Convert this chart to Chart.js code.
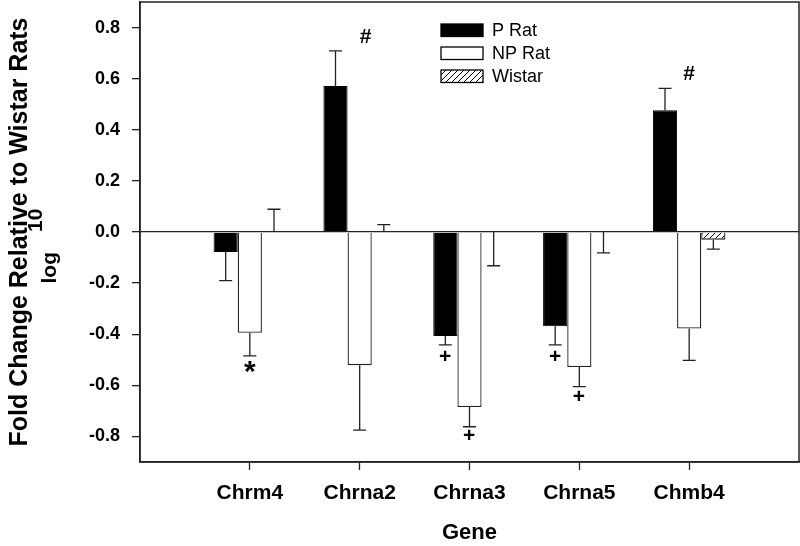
<!DOCTYPE html>
<html>
<head>
<meta charset="utf-8">
<script src="https://cdn.jsdelivr.net/npm/chart.js@4.4.0/dist/chart.umd.min.js"></script>
<style>
  body { margin: 0; background: #fff; }
  #wrap { width: 800px; height: 546px; }
</style>
</head>
<body>
<div id="wrap"><canvas id="chart"></canvas></div>
<script>
// Data
const genes = ['Chrm4', 'Chrna2', 'Chrna3', 'Chrna5', 'Chmb4'];
const pRat = [-0.078, 0.571, -0.407, -0.369, 0.476];
const pRatErr = [-0.112, 0.138, -0.035, -0.073, 0.086];
const npRat = [-0.394, -0.521, -0.685, -0.528, -0.378];
const npRatErr = [-0.091, -0.254, -0.077, -0.077, -0.124];
const wistar = [0, 0, 0, 0, -0.030];
const wistarErr = [0.089, 0.029, -0.132, -0.082, -0.037];
const yTicks = [-0.8, -0.6, -0.4, -0.2, 0, 0.2, 0.4, 0.6, 0.8];

// significance marks (text, x in gene units, y in axis units)
const markText = ['*', '#', '+', '+', '+', '+', '#'];
const markX = [1, 2.055, 2.777, 2.996, 3.779, 3.997, 5.0];
const markY = [-0.536, 0.764, -0.489, -0.801, -0.489, -0.645, 0.617];

const FONT = "'Liberation Sans', Arial, sans-serif";

function hatchPattern() {
    const c = document.createElement('canvas');
    c.width = 6; c.height = 6;
    const g = c.getContext('2d');
    g.fillStyle = '#fff';
    g.fillRect(0, 0, 6, 6);
    g.strokeStyle = '#000';
    g.lineWidth = 1;
    g.beginPath();
    g.moveTo(0, 6); g.lineTo(6, 0);
    g.moveTo(-1, 1); g.lineTo(1, -1);
    g.moveTo(5, 7); g.lineTo(7, 5);
    g.stroke();
    return g.createPattern(c, 'repeat');
}

const errs = [pRatErr, npRatErr, wistarErr];

// error bars, marks, legend, frame and y title
const extras = {
    id: 'extras',
    afterDatasetsDraw(chart) {
        const ctx = chart.ctx;
        const y = chart.scales.y;
        ctx.save();
        ctx.strokeStyle = '#222';
        ctx.lineWidth = 1.3;
        chart.data.datasets.forEach((ds, d) => {
            chart.getDatasetMeta(d).data.forEach((bar, i) => {
                const v = ds.data[i].y;
                const y0 = y.getPixelForValue(v);
                const y1 = y.getPixelForValue(v + errs[d][i]);
                ctx.beginPath();
                ctx.moveTo(bar.x, y0);
                ctx.lineTo(bar.x, y1);
                ctx.moveTo(bar.x - 6.5, y1);
                ctx.lineTo(bar.x + 6.5, y1);
                ctx.stroke();
            });
        });
        ctx.restore();
    },
    afterDraw(chart) {
        const ctx = chart.ctx;
        const a = chart.chartArea;
        const xs = chart.scales.x, ys = chart.scales.y;
        ctx.save();

        // frame
        ctx.strokeStyle = '#222';
        ctx.lineWidth = 1.5;
        ctx.strokeRect(a.left, a.top, a.right - a.left, a.bottom - a.top);

        // marks
        ctx.fillStyle = '#000';
        ctx.textAlign = 'center';
        ctx.textBaseline = 'middle';
        markText.forEach((t, i) => {
            ctx.font = (t === '*' ? 'bold 30px ' : 'bold 21px ') + FONT;
            const off = t === '*' ? 4 : 0;
            ctx.fillText(t, xs.getPixelForValue(markX[i]), ys.getPixelForValue(markY[i]) + off);
        });

        // legend
        ctx.textAlign = 'left';
        ctx.font = '18px ' + FONT;
        ctx.lineWidth = 1.3;
        chart.data.datasets.forEach((ds, i) => {
            const top = 24 + i * 23;
            ctx.fillStyle = ds.backgroundColor;
            ctx.fillRect(441, top, 42, 12.5);
            ctx.strokeStyle = '#000';
            ctx.strokeRect(441, top, 42, 12.5);
            ctx.fillStyle = '#000';
            ctx.fillText(ds.label, 492, top + 7);
        });

        // y axis title
        ctx.translate(20, 232);
        ctx.rotate(-Math.PI / 2);
        ctx.textAlign = 'center';
        ctx.font = 'bold 25px ' + FONT;
        ctx.fillText('Fold Change Relative to Wistar Rats', 0, 0);
        ctx.font = 'bold 21px ' + FONT;
        ctx.textAlign = 'right';
        ctx.fillText('log', -20, 30);
        ctx.textAlign = 'left';
        ctx.fillText('10', 0, 16);
        ctx.restore();
    }
};

new Chart(document.getElementById('chart'), {
    type: 'bar',
    data: {
        datasets: [
            {
                label: 'P Rat',
                data: genes.map((g, i) => ({ x: i + 1, y: pRat[i] })),
                backgroundColor: '#000',
                borderColor: '#000',
                borderWidth: 1
            },
            {
                label: 'NP Rat',
                data: genes.map((g, i) => ({ x: i + 1, y: npRat[i] })),
                backgroundColor: '#fff',
                borderColor: '#222',
                borderWidth: 1.3
            },
            {
                label: 'Wistar',
                data: genes.map((g, i) => ({ x: i + 1, y: wistar[i] })),
                backgroundColor: hatchPattern(),
                borderColor: '#222',
                borderWidth: 1.3
            }
        ]
    },
    options: {
        responsive: true,
        maintainAspectRatio: false,
        animation: false,
        categoryPercentage: 0.66,
        barPercentage: 1,
        layout: { padding: { left: 0, right: 1, top: 2, bottom: 0 } },
        plugins: {
            legend: { display: false },
            tooltip: { enabled: false }
        },
        scales: {
            x: {
                type: 'linear',
                min: 0,
                max: 6,
                offset: false,
                afterBuildTicks: s => { s.ticks = genes.map((g, i) => ({ value: i + 1 })); },
                afterFit: s => {
                    s.height = 84;
                    s.paddingLeft = s.paddingRight = s.paddingTop = s.paddingBottom = 0;
                },
                grid: { offset: false, drawOnChartArea: false, tickLength: 8, tickColor: '#222', tickWidth: 1.3 },
                border: { display: true, color: '#222', width: 1.5 },
                ticks: {
                    autoSkip: false,
                    maxRotation: 0,
                    padding: 11,
                    color: '#000',
                    font: { family: FONT, size: 21, weight: 'bold' },
                    callback: v => genes[v - 1] || ''
                },
                title: {
                    display: true,
                    text: 'Gene',
                    color: '#000',
                    padding: { top: 0, bottom: 0 },
                    font: { family: FONT, size: 22, weight: 'bold' }
                }
            },
            y: {
                min: -0.9,
                max: 0.9,
                afterBuildTicks: s => { s.ticks = yTicks.map(v => ({ value: v })); },
                afterFit: s => {
                    s.width = 140;
                    s.paddingLeft = s.paddingRight = s.paddingTop = s.paddingBottom = 0;
                },
                grid: {
                    color: c => (c.tick && c.tick.value === 0 ? '#222' : 'transparent'),
                    lineWidth: 1.3,
                    tickLength: 8,
                    tickColor: '#222',
                    tickWidth: 1.3
                },
                border: { display: true, color: '#222', width: 1.5 },
                ticks: {
                    padding: 12,
                    color: '#000',
                    font: { family: FONT, size: 18, weight: 'bold' },
                    callback: v => v.toFixed(1)
                }
            }
        }
    },
    plugins: [extras]
});
</script>
</body>
</html>
